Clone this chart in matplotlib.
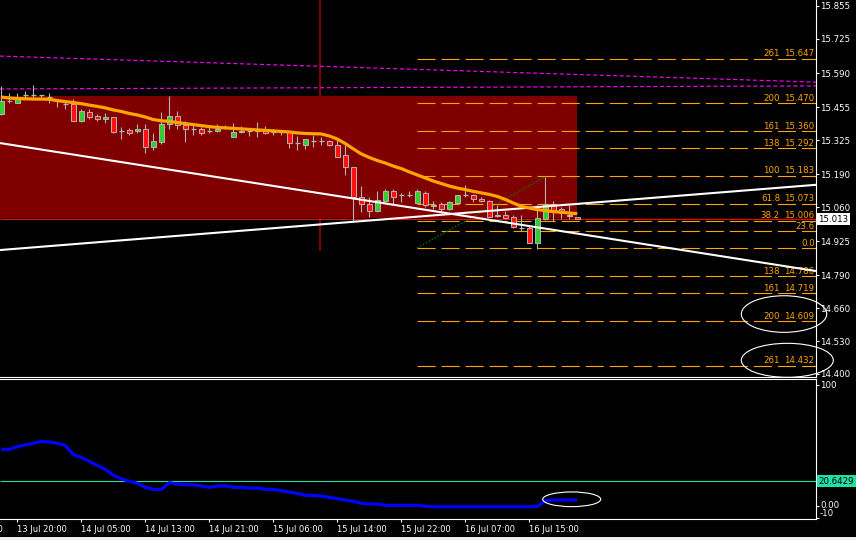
import matplotlib
matplotlib.use('Agg')
import matplotlib.pyplot as plt
from matplotlib.patches import Rectangle, Ellipse

plt.rcParams['font.family'] = ['DejaVu Sans']
plt.rcParams['lines.scale_dashes'] = False
plt.rcParams['lines.solid_capstyle'] = 'butt'

# ---------------- data ----------------
opens = [15.428, 15.481, 15.473, 15.502, 15.504, 15.504, 15.494, 15.478, 15.467, 15.467,
         15.401, 15.436, 15.420, 15.407, 15.415, 15.362, 15.365, 15.360, 15.367, 15.296,
         15.317, 15.388, 15.420, 15.383, 15.367, 15.367, 15.360, 15.360, 15.375, 15.338,
         15.357, 15.360, 15.362, 15.370, 15.357, 15.357, 15.357, 15.314, 15.307, 15.322,
         15.320, 15.320, 15.304, 15.265, 15.217, 15.101, 15.072, 15.043, 15.085, 15.122,
         15.109, 15.109, 15.077, 15.114, 15.064, 15.072, 15.054, 15.077, 15.109, 15.107,
         15.093, 15.083, 15.024, 15.030, 15.020, 14.977, 14.976, 14.919, 15.014, 15.072,
         15.051, 15.025, 15.022]
highs = [15.539, 15.510, 15.510, 15.518, 15.543, 15.505, 15.510, 15.486, 15.483, 15.486,
         15.449, 15.447, 15.428, 15.431, 15.417, 15.378, 15.373, 15.388, 15.388, 15.354,
         15.436, 15.499, 15.441, 15.399, 15.383, 15.378, 15.375, 15.388, 15.384, 15.394,
         15.380, 15.367, 15.396, 15.380, 15.367, 15.362, 15.357, 15.341, 15.330, 15.344,
         15.338, 15.325, 15.328, 15.304, 15.217, 15.143, 15.101, 15.122, 15.130, 15.130,
         15.114, 15.122, 15.133, 15.122, 15.083, 15.080, 15.083, 15.109, 15.146, 15.112,
         15.101, 15.088, 15.069, 15.043, 15.030, 15.027, 14.988, 15.069, 15.180, 15.083,
         15.059, 15.067, 15.022]
lows = [15.425, 15.470, 15.470, 15.488, 15.494, 15.494, 15.473, 15.454, 15.447, 15.400,
        15.396, 15.407, 15.401, 15.391, 15.354, 15.330, 15.346, 15.354, 15.275, 15.286,
        15.309, 15.367, 15.367, 15.317, 15.346, 15.346, 15.354, 15.357, 15.369, 15.338,
        15.354, 15.341, 15.338, 15.349, 15.344, 15.346, 15.293, 15.286, 15.291, 15.299,
        15.307, 15.301, 15.259, 15.186, 15.006, 15.040, 15.020, 15.040, 15.080, 15.072,
        15.080, 15.101, 15.075, 15.061, 15.054, 15.040, 15.048, 15.075, 15.101, 15.080,
        15.080, 15.022, 15.020, 15.012, 14.977, 14.966, 14.919, 14.893, 15.009, 15.006,
        15.014, 15.014, 15.012]
closes = [15.481, 15.479, 15.486, 15.502, 15.504, 15.504, 15.494, 15.478, 15.467, 15.401,
          15.439, 15.417, 15.407, 15.415, 15.357, 15.362, 15.354, 15.367, 15.299, 15.320,
          15.388, 15.420, 15.383, 15.367, 15.367, 15.354, 15.360, 15.370, 15.375, 15.357,
          15.362, 15.360, 15.362, 15.352, 15.357, 15.357, 15.312, 15.314, 15.328, 15.322,
          15.320, 15.304, 15.259, 15.217, 15.101, 15.072, 15.046, 15.088, 15.125, 15.101,
          15.109, 15.109, 15.125, 15.067, 15.069, 15.054, 15.080, 15.107, 15.109, 15.091,
          15.083, 15.022, 15.030, 15.017, 14.980, 14.977, 14.919, 15.017, 15.069, 15.048,
          15.035, 15.030, 15.013]
ma_values = [15.495, 15.491, 15.489, 15.488, 15.487, 15.487, 15.486, 15.481, 15.477, 15.473,
             15.469, 15.463, 15.458, 15.452, 15.444, 15.438, 15.430, 15.424, 15.416, 15.406,
             15.401, 15.399, 15.394, 15.390, 15.386, 15.382, 15.378, 15.375, 15.373, 15.371,
             15.369, 15.367, 15.365, 15.363, 15.361, 15.359, 15.357, 15.353, 15.351, 15.350,
             15.349, 15.341, 15.329, 15.311, 15.290, 15.270, 15.256, 15.244, 15.234, 15.222,
             15.212, 15.199, 15.187, 15.175, 15.163, 15.153, 15.143, 15.135, 15.129, 15.122,
             15.116, 15.110, 15.102, 15.090, 15.076, 15.063, 15.056, 15.050, 15.046, 15.042,
             15.040, 15.036, 15.034]
osc_values = [46.8, 46.8, 49.0, 50.5, 51.8, 53.4, 52.9, 51.8, 50.1, 42.4,
              40.2, 36.9, 33.6, 30.3, 25.3, 22.5, 20.3, 18.7, 15.4, 13.7,
              13.7, 19.2, 18.1, 17.5, 17.5, 16.5, 15.4, 16.5, 16.5, 15.4,
              15.4, 14.8, 14.8, 13.7, 13.7, 12.6, 11.5, 10.4, 8.8, 8.8,
              8.2, 7.1, 6.0, 4.9, 3.8, 2.2, 1.6, 1.6, 0.5, 0.5,
              0.5, 0.5, 0.5, -0.2, -0.7, -0.7, -0.7, -0.7, -0.7, -0.7,
              -0.7, -0.7, -0.7, -0.7, -0.7, -0.7, -0.7, -0.5, 4.3, 4.9,
              4.9, 4.9, 4.9]

time_tick_bars = [-6, 2, 10, 18, 26, 34, 42, 50, 58, 66]
time_tick_labels = ['13 Jul 12:00', '13 Jul 20:00', '14 Jul 05:00', '14 Jul 13:00',
                    '14 Jul 21:00', '15 Jul 06:00', '15 Jul 14:00', '15 Jul 22:00',
                    '16 Jul 07:00', '16 Jul 15:00']
price_ticks = [15.855, 15.725, 15.590, 15.455, 15.325, 15.190, 15.060, 14.925,
               14.790, 14.660, 14.530, 14.400]
price_tick_labels = ['15.855', '15.725', '15.590', '15.455', '15.325', '15.190', '15.060',
                     '14.925', '14.790', '14.660', '14.530', '14.400']
osc_ticks = [100, 0, -10]
osc_tick_labels = ['100', '0.00', '-10']
osc_level = 20.6429
bid_price = 15.013

fib1_levels = ['261', '200', '161', '138', '100', '61.8', '38.2', '23.6', '0.0']
fib1_prices = [15.647, 15.470, 15.360, 15.292, 15.183, 15.073, 15.006, 14.965, 14.898]
fib1_price_text = ['15.647', '15.470', '15.360', '15.292', '15.183', '15.073', '15.006', '', '']
fib2_levels = ['138', '161', '200', '261']
fib2_prices = [14.786, 14.719, 14.609, 14.432]
fib2_price_text = ['14.786', '14.719', '14.609', '14.432']

zone_top, zone_bottom = 15.499, 15.015
zone_end_bar = 71.96
trend_down = [15.313, 14.807]
trend_up = [14.890, 15.148]
magenta_upper = [15.657, 15.554]
magenta_lower = [15.527, 15.539]
fib_start_bar = 51.96
fib_anchor_bars = [51.96, 68]
fib_anchor_prices = [14.898, 15.180]
vline_bar = 39.84
vline_bottom = 14.886

# ---------------- layout ----------------
W, H = 856, 540
fig = plt.figure(figsize=(W / 100, H / 100), dpi=100, facecolor='black')


def fx(px):
    return px / W


def fy(py):
    return 1 - py / H


ax = fig.add_axes([0, fy(377), fx(816), 377 / H])
ax2 = fig.add_axes([0, fy(519), fx(816), 140 / H])
XL = (-1.3 / 8, (816 - 1.3) / 8)
for a in (ax, ax2):
    a.set_facecolor('black')
    a.spines['left'].set_visible(False)
    for s in ('right', 'bottom', 'top'):
        a.spines[s].set_color('white')
        a.spines[s].set_linewidth(0.8)
ax.spines['top'].set_visible(False)

FS = 6.2
ORANGE = '#FFA500'
GRAY = '#B4B4B4'
LEVEL_C = '#20E0A8'

# price axis
ax.set_xticks([])
ax.yaxis.tick_right()
ax.set_yticks(price_ticks)
ax.set_yticklabels(price_tick_labels)
ax.tick_params(axis='y', colors='white', length=2.2, width=0.8, pad=1.0, labelsize=FS)

# zone rectangle and vertical line
ax.add_patch(Rectangle((XL[0] - 1, zone_bottom), zone_end_bar - XL[0] + 1,
                       zone_top - zone_bottom, facecolor='#800000', edgecolor='none', zorder=1))
ax.vlines(vline_bar, vline_bottom, 16.0, colors='#800000', lw=1.5, zorder=1.5)

# magenta dashed lines
ax.plot(XL, magenta_upper, color='#FF00FF', lw=0.8, linestyle=(0, (3, 1.8)), zorder=2)
ax.plot(XL, magenta_lower, color='#FF00FF', lw=0.8, linestyle=(0, (3, 1.8)), zorder=2)

# fibo levels
for lev, p, t in zip(fib1_levels + fib2_levels, fib1_prices + fib2_prices,
                     fib1_price_text + fib2_price_text):
    ax.plot([fib_start_bar, XL[1]], [p, p], color=ORANGE, lw=0.8,
            linestyle=(0, (13, 4.3)), zorder=2)
    if t:
        ax.annotate(t, xy=(XL[1], p), xytext=(-1.5, 2.5), textcoords='offset pixels',
                    ha='right', va='baseline', color=ORANGE, fontsize=FS, zorder=2,
                    annotation_clip=False)
        ax.annotate(lev, xy=(XL[1], p), xytext=(-36, 2.5), textcoords='offset pixels',
                    ha='right', va='baseline', color=ORANGE, fontsize=FS, zorder=2,
                    annotation_clip=False)
    else:
        ax.annotate(lev, xy=(XL[1], p), xytext=(-1.5, 2.5), textcoords='offset pixels',
                    ha='right', va='baseline', color=ORANGE, fontsize=FS, zorder=2,
                    annotation_clip=False)

ax.plot(fib_anchor_bars, fib_anchor_prices, color='#008000', lw=0.8,
        linestyle=(0, (1.2, 1.2)), zorder=3)

# bid line
ax.axhline(bid_price, color='#FF0000', lw=0.8, zorder=3.5)

# candles
xs = list(range(len(opens)))
ax.vlines(xs, lows, highs, colors=GRAY, lw=0.8, zorder=4)
for i, o, c in zip(xs, opens, closes):
    if abs(c - o) < 0.0015:
        ax.hlines(o, i - 0.32, i + 0.32, colors=GRAY, lw=0.9, zorder=5)
    else:
        ax.bar(i, abs(c - o), bottom=min(o, c), width=0.6,
               color='#33CC33' if c > o else '#FF1010', edgecolor=GRAY, lw=0.7, zorder=5)

# trend lines
ax.plot(XL, trend_down, color='white', lw=1.5, zorder=6)
ax.plot(XL, trend_up, color='white', lw=1.5, zorder=6)

# moving average
ax.plot(xs, ma_values, color=ORANGE, lw=2.3, zorder=7)

# ellipses
ax.add_patch(Ellipse((97.84, 14.637), 10.675, 0.1447, fill=False, ec='white',
                     lw=0.8, clip_on=False, zorder=10))
ax.add_patch(Ellipse((98.25, 14.454), 11.5, 0.1344, fill=False, ec='white',
                     lw=0.8, clip_on=False, zorder=10))

# current price box
fig.text(fx(818.5), fy(219), '15.013', color='black', fontsize=FS, ha='left', va='center',
         bbox=dict(boxstyle='square,pad=0.18', fc='white', ec='none'))

# ---------------- oscillator panel ----------------
ax2.plot(xs, osc_values, color='#0000FF', lw=2.3, zorder=5)
ax2.axhline(osc_level, color=LEVEL_C, lw=0.8, zorder=3)
ax2.add_patch(Ellipse((71.3, 5.5), 7.25, 12.16, fill=False, ec='white', lw=0.8,
                      clip_on=False, zorder=10))
ax2.yaxis.tick_right()
ax2.set_yticks(osc_ticks)
ax2.set_yticklabels(['', '', ''])
ax2.tick_params(axis='y', colors='white', length=2.2, width=0.8)
for lab, py in zip(osc_tick_labels, [386, 506, 513.5]):
    fig.text(fx(820), fy(py), lab, color='white', fontsize=FS, ha='left', va='center')
fig.text(fx(818.5), fy(481), '20.6429', color='black', fontsize=FS, ha='left', va='center',
         bbox=dict(boxstyle='square,pad=0.18', fc=LEVEL_C, ec='none'))

ax2.set_xticks(time_tick_bars)
ax2.set_xticklabels([''] * len(time_tick_bars))
ax2.tick_params(axis='x', colors='white', length=2.2, width=0.8, direction='out')
for b, lab in zip(time_tick_bars, time_tick_labels):
    fig.text(fx(1.3 + 8 * b), fy(529.5), lab, color='white', fontsize=6.0,
             ha='left', va='center')

# limits last (set_xticks may widen them)
for a in (ax, ax2):
    a.set_xlim(XL)
ax.set_ylim(14.388, 15.8787)
ax2.set_ylim(-10.8, 105)

fig.patches.append(Rectangle((0, 0), 1, 3 / H, transform=fig.transFigure,
                             facecolor='#EEEEEE', edgecolor='none'))

fig.savefig('out.png', dpi=100, facecolor='black')
